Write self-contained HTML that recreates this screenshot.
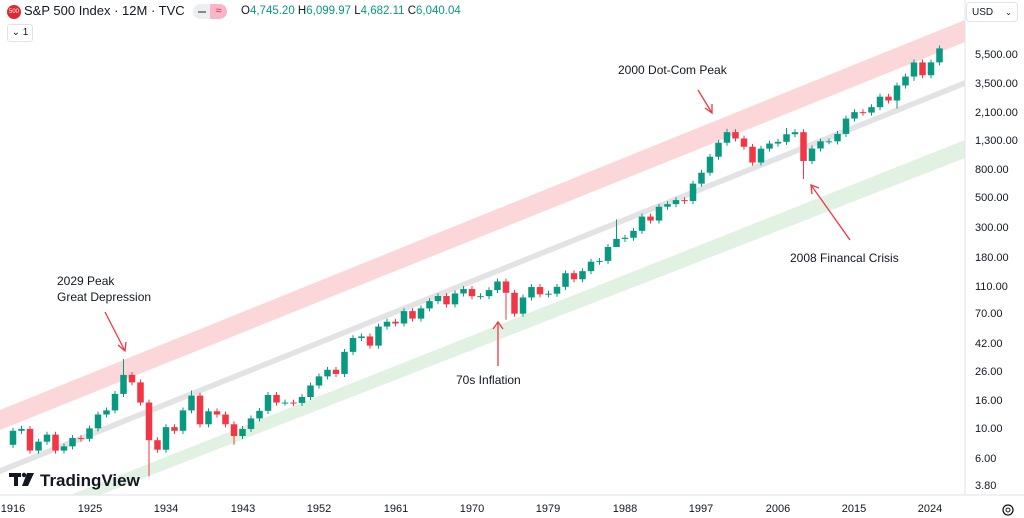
<!DOCTYPE html>
<html><head><meta charset="utf-8"><style>
body{margin:0;width:1024px;height:518px;background:#fff;font-family:"Liberation Sans",sans-serif;overflow:hidden;position:relative}
.t{position:absolute;white-space:nowrap}
</style></head><body>
<svg id="c" width="1024" height="518" style="position:absolute;left:0;top:0">
<polygon points="0,410 965,20 965,42 0,430" fill="#fbd7d9"/>
<polygon points="0,468 965,80 965,86 0,474" fill="#e3e3e6"/>
<polygon points="70,495 965,140 965,158 100,495" fill="#e1f1e2"/>
<g id="cd"></g>
<g stroke="#f23645" stroke-width="1.3" fill="none">
<line x1="105" y1="312" x2="125" y2="351"/><polyline points="118,345 125,351 126,342"/>
<line x1="698" y1="90" x2="712" y2="113"/><polyline points="705,108 712,113 712,104"/>
<line x1="498" y1="366" x2="498" y2="322"/><polyline points="493,329 498,322 503,329"/>
<line x1="850" y1="240" x2="811" y2="185"/><polyline points="812,194 811,185 819,188"/>
</g>
<line x1="965" y1="0" x2="965" y2="495" stroke="#e0e3eb"/>
<line x1="0" y1="495" x2="1024" y2="495" stroke="#e0e3eb"/>
<g font-size="11" fill="#131722" font-family="Liberation Sans,sans-serif">
<text x="975" y="58">5,500.00</text><text x="975" y="87">3,500.00</text><text x="975" y="116">2,100.00</text><text x="975" y="144">1,300.00</text><text x="975" y="173">800.00</text><text x="975" y="201">500.00</text><text x="975" y="231">300.00</text><text x="975" y="261">180.00</text><text x="975" y="290">110.00</text><text x="975" y="317">70.00</text><text x="975" y="347">42.00</text><text x="975" y="375">26.00</text><text x="975" y="404">16.00</text><text x="975" y="432">10.00</text><text x="975" y="462">6.00</text><text x="975" y="489">3.80</text>
</g>
<g font-size="11" fill="#131722" text-anchor="middle" font-family="Liberation Sans,sans-serif">
<text x="13" y="512">1916</text><text x="90" y="512">1925</text><text x="166" y="512">1934</text><text x="243" y="512">1943</text><text x="319" y="512">1952</text><text x="396" y="512">1961</text><text x="472" y="512">1970</text><text x="548" y="512">1979</text><text x="625" y="512">1988</text><text x="701" y="512">1997</text><text x="778" y="512">2006</text><text x="854" y="512">2015</text><text x="930" y="512">2024</text>
</g>
<circle cx="1008" cy="510" r="5" fill="none" stroke="#131722" stroke-width="1.3"/><circle cx="1008" cy="510" r="2" fill="none" stroke="#131722"/>
<g fill="#131722" font-size="12" font-family="Liberation Sans,sans-serif">
<text x="57" y="285">2029 Peak</text><text x="57" y="301">Great Depression</text>
<text x="618" y="74">2000 Dot-Com Peak</text>
<text x="456" y="384">70s Inflation</text>
<text x="790" y="262">2008 Financal Crisis</text>
</g>
<g fill="#131722"><rect x="9" y="473" width="12" height="4"/><rect x="14" y="473" width="4" height="13"/><circle cx="24" cy="475" r="2.2"/><polygon points="27,473 34,473 28,486 22,486"/></g>
<text x="40" y="486" font-size="17" font-weight="bold" fill="#131722" font-family="Liberation Sans,sans-serif">TradingView</text>
</svg>
<div class="t" style="left:0;top:0;width:960px;height:22px;background:rgba(255,255,255,.9)"></div>
<div class="t" style="left:7px;top:5px;width:14px;height:14px;border-radius:7px;background:#e0282e;color:#fff;font-size:6px;line-height:14px;text-align:center">500</div>
<div class="t" style="left:24px;top:3px;font-size:13px;color:#131722">S&amp;P 500 Index · 12M · TVC</div>
<div class="t" style="left:193px;top:4px;width:34px;height:15px;border-radius:8px;background:#eceef2"></div>
<div class="t" style="left:210px;top:4px;width:17px;height:15px;border-radius:0 8px 8px 0;background:#f7b7c6;color:#e91e63;font-size:11px;line-height:15px;text-align:center">≈</div>
<div class="t" style="left:198px;top:11px;width:8px;height:2px;background:#888"></div>
<div class="t" style="left:241px;top:5px;font-size:11.5px;color:#089981"><span style="color:#131722">O</span>4,745.20 <span style="color:#131722">H</span>6,099.97 <span style="color:#131722">L</span>4,682.11 <span style="color:#131722">C</span>6,040.04</div>
<div class="t" style="left:7px;top:24px;width:24px;height:16px;border:1px solid #e0e3eb;border-radius:3px;font-size:10px;line-height:16px;text-align:center;color:#131722">⌄ 1</div>
<div class="t" style="left:966px;top:2px;width:52px;height:20px;border:1px solid #e0e3eb;border-radius:4px;background:#fff;font-size:10px;line-height:20px;color:#131722;padding-left:5px;box-sizing:border-box">USD<span style="position:absolute;right:5px;font-size:8px">⌄</span></div>
<script>
var c=[7.5,9.5,9.8,6.8,7.9,8.9,6.8,7.3,8.4,8.3,9.9,12.5,13.4,17.7,24.4,21.5,15.3,8.1,6.9,10.1,9.5,13.4,17.2,10.6,13.2,12.5,10.6,8.7,9.8,11.7,13.3,17.4,15.3,15.3,15.2,16.8,20.4,23.8,26.6,24.8,36,45.5,46.7,40,55.2,59.9,58.1,71.6,63.1,75,84.8,92.4,80.3,96.5,103.9,92.1,92.2,102.1,118.1,97.6,68.6,90.2,107.5,95.1,96.1,107.9,135.8,122.6,140.6,164.9,167.2,211.3,242.2,247.1,277.7,353.4,330.2,417.1,435.7,466.5,459.3,615.9,740.7,970.4,1229,1469,1320,1148,880,1112,1212,1248,1418,1468,903,1115,1258,1258,1426,1848,2059,2044,2239,2674,2507,3231,3756,4766,3840,4770,6040];
var low={1932:4.4,2009:666,1974:62,2020:2192,1987:223,1942:7.5,2022:3491};
var hi={1929:31.9,1987:337,2000:1553,2007:1576,1937:18.7};
function Y(v){return 54+(3.74-Math.log10(v))*136.4}
var s='';
for(var i=1;i<c.length;i++){var yr=1915+i,o=c[i-1],cl=c[i];var x=4.5+(yr-1915)*8.5;
var up=cl>=o,col=up?'#089981':'#f23645';var h=hi[yr]||Math.max(o,cl)*1.05,l=low[yr]||Math.min(o,cl)*0.95;
var y1=Y(Math.max(o,cl)),y2=Y(Math.min(o,cl));if(y2-y1<1)y2=y1+1;
s+='<line x1="'+x+'" x2="'+x+'" y1="'+Y(h)+'" y2="'+Y(l)+'" stroke="'+col+'"/>';
s+='<rect x="'+(x-3.25)+'" y="'+y1+'" width="6.5" height="'+(y2-y1)+'" fill="'+col+'"/>';}
document.getElementById('cd').innerHTML=s;
</script>
</body></html>
